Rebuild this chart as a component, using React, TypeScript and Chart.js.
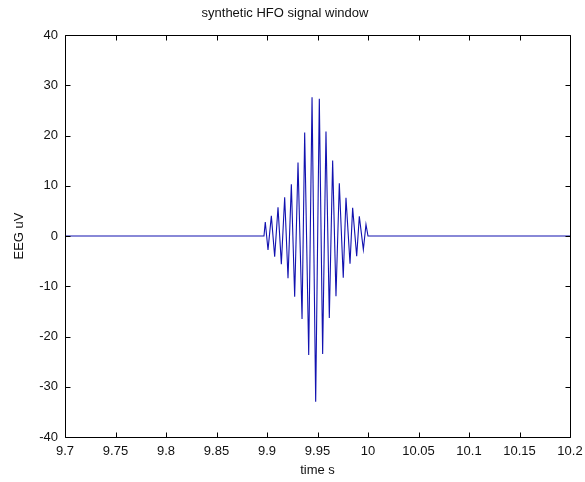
import React, { useEffect, useRef } from 'react';
import { Chart, registerables } from 'chart.js';

Chart.register(...registerables);

// time (s) of each vertex of the trace
const times = [
  9.7, 9.8970,
  9.8983, 9.9010, 9.9043, 9.9076, 9.9109, 9.9142, 9.9175, 9.9208,
  9.9241, 9.9274, 9.9307, 9.9347, 9.9373, 9.9413, 9.9446, 9.9482,
  9.9518, 9.9551, 9.9584, 9.9617, 9.9650, 9.9683, 9.9716, 9.9755,
  9.9782, 9.9822, 9.9848, 9.9888, 9.9914, 9.9954, 9.9980,
  10.0000, 10.2,
];
// EEG amplitude (uV) at each vertex
const values = [
  0, 0,
  2.8, -2.8, 4.0, -4.1, 5.7, -5.6, 7.7, -8.4,
  10.3, -12.1, 14.6, -16.5, 20.6, -23.7, 27.6, -33.0,
  27.3, -23.5, 20.8, -16.3, 15.0, -12.0, 10.5, -8.3,
  7.6, -5.5, 5.6, -4.0, 3.9, -2.7, 2.3,
  0, 0,
];

const xTicks = [9.7, 9.75, 9.8, 9.85, 9.9, 9.95, 10, 10.05, 10.1, 10.15, 10.2];
const yTicks = [-40, -30, -20, -10, 0, 10, 20, 30, 40];

const titleText = 'synthetic HFO signal window';
const xTitle = 'time s';
const yTitle = 'EEG uV';

const FONT = '"Liberation Sans", Arial, Helvetica, sans-serif';

const boxAndTicks = {
  id: 'boxAndTicks',
  afterDatasetsDraw(chart: any) {
    const { ctx, chartArea: a, scales } = chart;
    const x = scales.x;
    const y = scales.y;
    const L = Math.round(a.left) + 0.5;
    const R = Math.round(a.right) + 0.5;
    const T = Math.round(a.top) + 0.5;
    const B = Math.round(a.bottom) + 0.5;
    const len = 5;
    ctx.save();
    ctx.strokeStyle = '#000';
    ctx.lineWidth = 1;
    ctx.beginPath();
    ctx.rect(L, T, R - L, B - T);
    xTicks.forEach((v) => {
      const px = Math.round(x.getPixelForValue(v)) + 0.5;
      ctx.moveTo(px, B);
      ctx.lineTo(px, B - len);
      ctx.moveTo(px, T);
      ctx.lineTo(px, T + len);
    });
    yTicks.forEach((v) => {
      const py = Math.round(y.getPixelForValue(v)) + 0.5;
      ctx.moveTo(L, py);
      ctx.lineTo(L + len, py);
      ctx.moveTo(R, py);
      ctx.lineTo(R - len, py);
    });
    ctx.stroke();
    ctx.restore();
  },
};

export default function App() {
  const ref = useRef<HTMLCanvasElement | null>(null);

  useEffect(() => {
    document.body.style.margin = '0';
    const canvas = ref.current;
    if (!canvas) return;
    const data = times.map((t, i) => ({ x: t, y: values[i] }));
    const chart = new Chart(canvas, {
      type: 'line',
      data: {
        datasets: [
          {
            data,
            borderColor: '#1212b0',
            borderWidth: 1.1,
            pointRadius: 0,
            tension: 0,
            fill: false,
          },
        ],
      },
      options: {
        animation: false,
        responsive: false,
        maintainAspectRatio: false,
        layout: { padding: { top: 0, right: 15, bottom: 0, left: 0 } },
        plugins: {
          legend: { display: false },
          tooltip: { enabled: false },
          title: {
            display: true,
            text: titleText,
            color: '#111',
            font: { family: FONT, size: 13, weight: 'normal' },
            padding: { top: 5.5, bottom: 13.9 },
          },
        },
        scales: {
          x: {
            type: 'linear',
            min: 9.7,
            max: 10.2,
            afterBuildTicks: (s: any) => {
              s.ticks = xTicks.map((v) => ({ value: v }));
            },
            afterFit: (s: any) => {
              s.height = 45;
              s.paddingLeft = 0;
              s.paddingRight = 0;
            },
            grid: { display: false, drawTicks: false },
            border: { display: false },
            ticks: {
              color: '#111',
              font: { family: FONT, size: 13 },
              padding: 7,
              maxRotation: 0,
              autoSkip: false,
              callback: (v: any) => String(+Number(v).toFixed(2)),
            },
            title: {
              display: true,
              text: xTitle,
              color: '#111',
              font: { family: FONT, size: 13 },
              padding: { top: 0, bottom: 4 },
            },
          },
          y: {
            type: 'linear',
            min: -40,
            max: 40,
            afterBuildTicks: (s: any) => {
              s.ticks = yTicks.map((v) => ({ value: v }));
            },
            afterFit: (s: any) => {
              s.width = 65;
              s.paddingTop = 0;
              s.paddingBottom = 0;
            },
            grid: { display: false, drawTicks: false },
            border: { display: false },
            ticks: {
              color: '#111',
              font: { family: FONT, size: 13 },
              padding: 7,
              autoSkip: false,
              callback: (v: any) => String(v),
            },
            title: {
              display: true,
              text: yTitle,
              color: '#111',
              font: { family: FONT, size: 13 },
              padding: { top: 12, bottom: 0 },
            },
          },
        },
      },
      plugins: [boxAndTicks],
    });
    return () => chart.destroy();
  }, []);

  return (
    <div style={{ position: 'absolute', left: 0, top: 0, width: 585, height: 482, background: '#fff' }}>
      <canvas ref={ref} width={585} height={482} style={{ display: 'block', width: 585, height: 482 }} />
    </div>
  );
}
